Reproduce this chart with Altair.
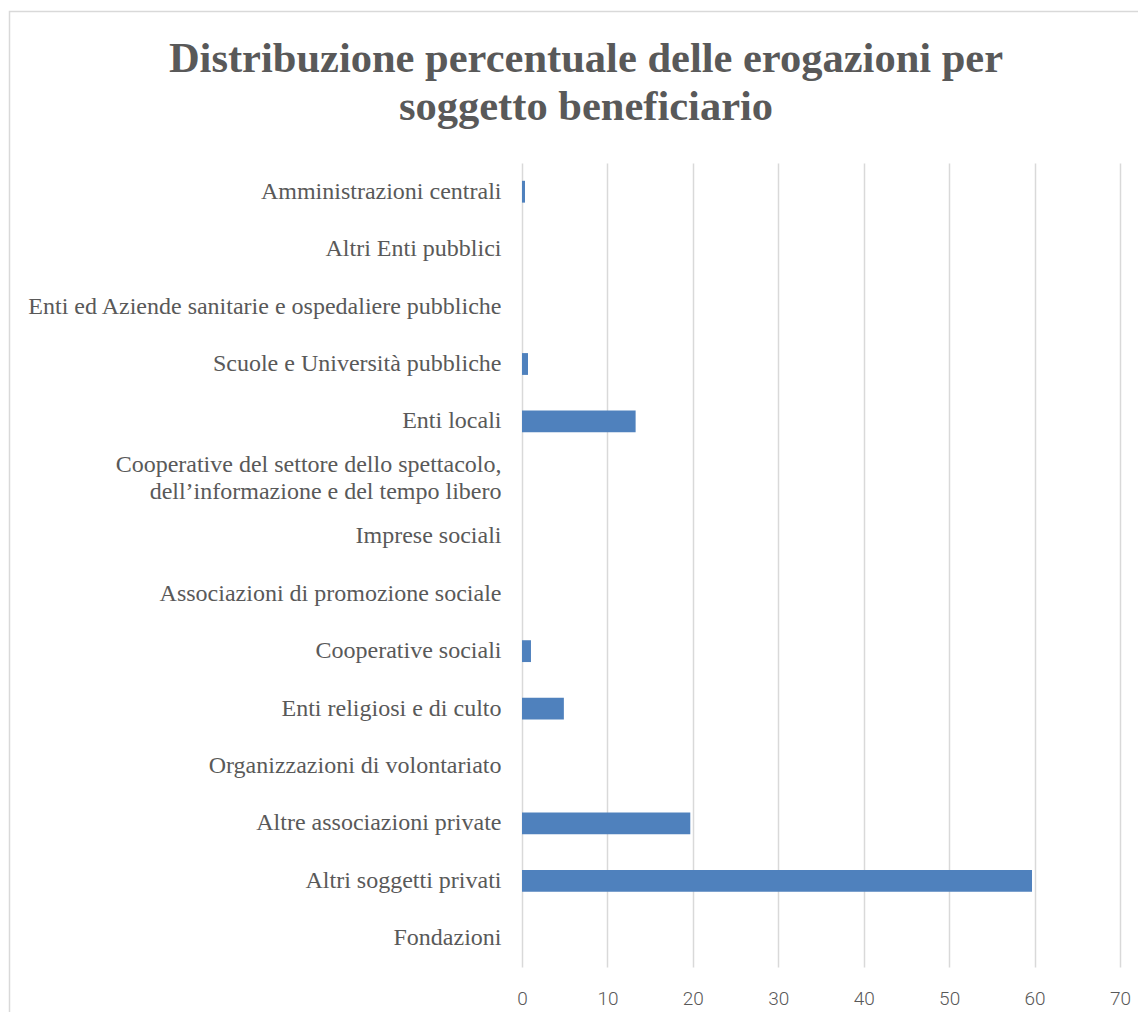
import altair as alt
import pandas as pd

categories = [
    "Amministrazioni centrali",
    "Altri Enti pubblici",
    "Enti ed Aziende sanitarie e ospedaliere pubbliche",
    "Scuole e Università pubbliche",
    "Enti locali",
    "Cooperative del settore dello spettacolo,\ndell\u2019informazione e del tempo libero",
    "Imprese sociali",
    "Associazioni di promozione sociale",
    "Cooperative sociali",
    "Enti religiosi e di culto",
    "Organizzazioni di volontariato",
    "Altre associazioni private",
    "Altri soggetti privati",
    "Fondazioni",
]
values = [0.35, 0.0, 0.0, 0.7, 13.3, 0.0, 0.0, 0.0, 1.05, 4.9, 0.0, 19.7, 59.7, 0.0]
x_ticks = [0, 10, 20, 30, 40, 50, 60, 70]

title_lines = ["Distribuzione percentuale delle erogazioni per", "soggetto beneficiario"]

df = pd.DataFrame({"cat": categories, "val": values})

W, H = 598, 804

bars = alt.Chart(df).mark_bar(color="#4f81bd").encode(
    y=alt.Y("cat:N", sort=categories,
            scale=alt.Scale(paddingInner=0.62, paddingOuter=0.31),
            axis=alt.Axis(title=None, ticks=False, domain=False, grid=False,
                          labelFont="Liberation Serif", labelFontSize=24,
                          labelColor="#595959", labelPadding=21,
                          labelLimit=700, labelLineHeight=27,
                          labelOffset={"condition": {"test": "test(/spettacolo/, datum.value)",
                                                     "value": -13.5},
                                       "value": 0},
                          labelExpr="split(datum.label, '\\n')")),
    x=alt.X("val:Q", scale=alt.Scale(domain=[0, 70], nice=False),
            axis=alt.Axis(title=None, values=x_ticks, ticks=False, domain=False,
                          grid=True, gridColor="#d9d9d9", gridWidth=1.5,
                          labelFlush=False,
                          labelFont="Roboto", labelFontWeight=300, labelFontSize=19,
                          labelColor="#595959", labelPadding=22)),
)

border = alt.Chart(pd.DataFrame({"a": [0]})).mark_rect(
    fill=None, stroke="#d9d9d9", strokeWidth=1.5, clip=False
).encode(
    x=alt.value(-512.5), x2=alt.value(700),
    y=alt.value(-151.5), y2=alt.value(900),
)

chart = alt.layer(border, bars).properties(
    width=W, height=H,
    title=alt.TitleParams(
        text=title_lines, font="Liberation Serif", fontSize=42.5, fontWeight="bold",
        color="#595959", anchor="middle", frame="group", dx=-235, dy=153, offset=35,
        lineHeight=48,
    ),
    autosize=alt.AutoSizeParams(type="none"),
    padding={"left": 514, "top": 155, "right": 18, "bottom": 45},
).configure_view(stroke=None)

chart.save("out.html", embed_options={"renderer": "svg", "actions": False})
